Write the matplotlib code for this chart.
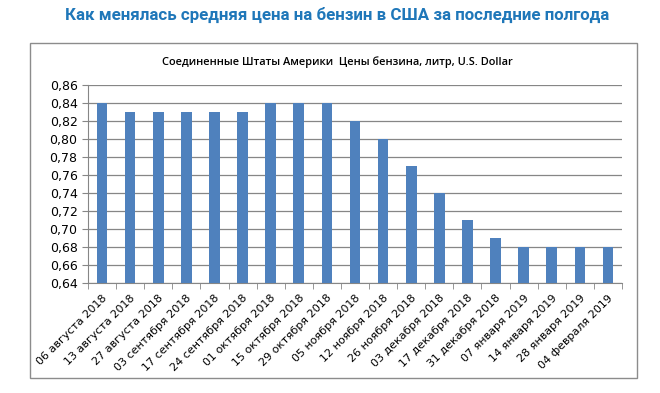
import numpy as np
import matplotlib
matplotlib.use('Agg')
from matplotlib import pyplot as plt
from matplotlib.patches import Rectangle
from matplotlib.ticker import FuncFormatter, FixedLocator

dates = ['06 августа 2018', '13 августа 2018', '27 августа 2018', '03 сентября 2018',
         '17 сентября 2018', '24 сентября 2018', '01 октября 2018', '15 октября 2018',
         '29 октября 2018', '05 ноября 2018', '12 ноября 2018', '26 ноября 2018',
         '03 декабря 2018', '17 декабря 2018', '31 декабря 2018', '07 января 2019',
         '14 января 2019', '28 января 2019', '04 февраля 2019']
prices = [0.84, 0.83, 0.83, 0.83, 0.83, 0.83, 0.84, 0.84, 0.84, 0.82,
          0.80, 0.77, 0.74, 0.71, 0.69, 0.68, 0.68, 0.68, 0.68]
y_ticks = [0.64, 0.66, 0.68, 0.70, 0.72, 0.74, 0.76, 0.78, 0.80, 0.82, 0.84, 0.86]

grey = '#868686'

fig = plt.figure(figsize=(6.6, 3.93), dpi=100)
fig.patch.set_facecolor('white')

# outer frame of the chart
fig.patches.append(Rectangle((30/660, 1-378/393), 607/660, 335/393, transform=fig.transFigure,
                             fill=False, edgecolor='#8c8c8c', lw=1.0))

fig.text(0.511, 1-15/393, 'Как менялась средняя цена на бензин в США за последние полгода',
         ha='center', va='center', fontsize=12.2, fontweight='bold', color='#1f77b9',
         family='Roboto')
fig.text(0.511, 1-62/393, 'Соединенные Штаты Америки  Цены бензина, литр, U.S. Dollar',
         ha='center', va='center', fontsize=7.9, fontweight='semibold', color='black',
         family='Open Sans')

ax = fig.add_axes([88/660, 1-283/393, 534/660, 198/393])
x = np.arange(len(dates))
ax.bar(x, prices, width=0.38, color='#4f81bd', zorder=3)

ax.set_ylim(0.64, 0.86)
ax.set_xlim(-0.5, len(dates) - 0.5)
ax.set_yticks(y_ticks)
ax.yaxis.set_major_formatter(FuncFormatter(lambda v, p: ('%.2f' % v).replace('.', ',')))
ax.grid(axis='y', color=grey, lw=0.9, zorder=0)

ax.set_xticks(x)
ax.set_xticklabels(dates, rotation=45, ha='right', rotation_mode='anchor', fontsize=8)
ax.xaxis.set_minor_locator(FixedLocator(np.arange(-0.5, len(dates), 1)))
ax.tick_params(axis='x', which='major', length=0, pad=7)
ax.tick_params(axis='x', which='minor', length=4, color=grey)
ax.tick_params(axis='y', length=4, color=grey, labelsize=9)

for s in ['top', 'right']:
    ax.spines[s].set_visible(False)
for s in ['left', 'bottom']:
    ax.spines[s].set_color(grey)

fig.savefig('out.png', dpi=100, facecolor='white')
